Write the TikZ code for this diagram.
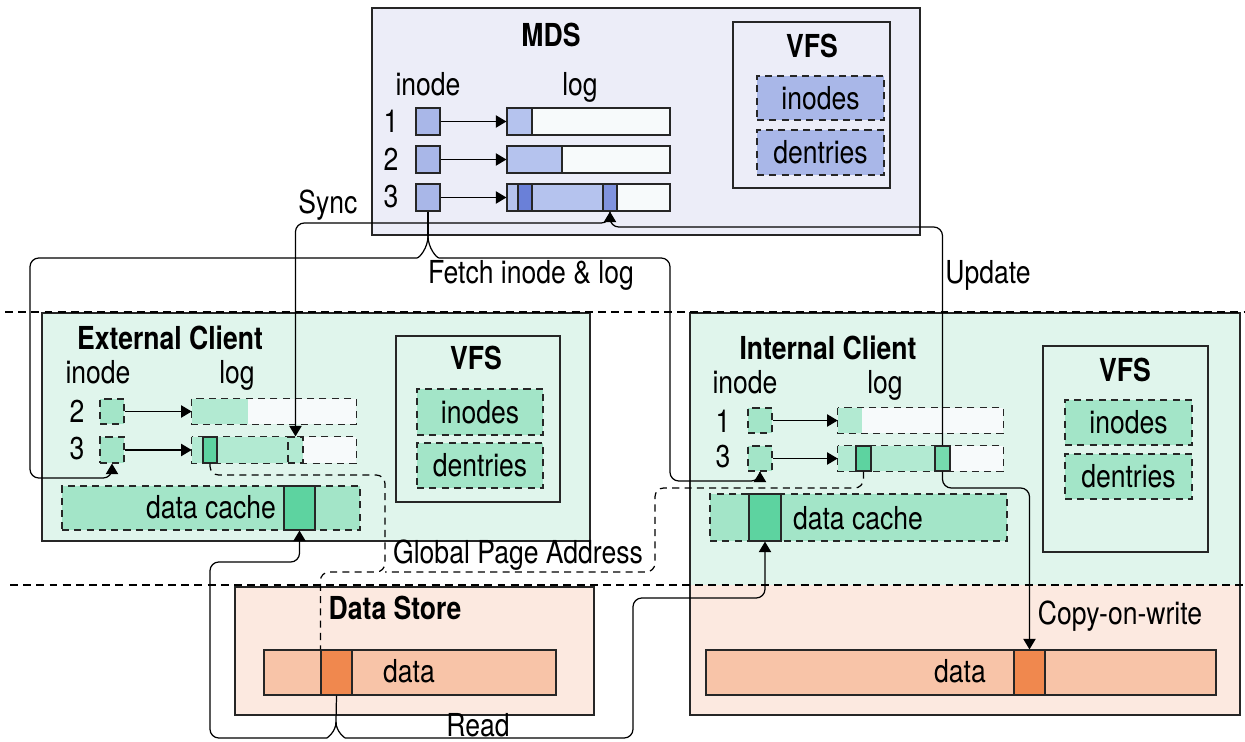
\documentclass[tikz,border=0pt]{standalone}
\usepackage{fontspec}
\setmainfont{TeX Gyre Heros}[FakeStretch=0.84]
\usetikzlibrary{arrows.meta,fit,calc}
\definecolor{MdsBg}{HTML}{ECEDF8}
\definecolor{MdsBox}{HTML}{A9B7E8}
\definecolor{MdsLog}{HTML}{B5C3EE}
\definecolor{MdsSeg}{HTML}{6A80D8}
\definecolor{LogRest}{HTML}{F7FAFB}
\definecolor{CliBg}{HTML}{E0F5EC}
\definecolor{CliBox}{HTML}{A3E5C8}
\definecolor{CliLog}{HTML}{B2EAD2}
\definecolor{CliSeg}{HTML}{5DD3A0}
\definecolor{StoreBg}{HTML}{FCE9E0}
\definecolor{StoreBar}{HTML}{F8C4A8}
\definecolor{StoreSeg}{HTML}{F0884E}
\tikzset{
    region/.style = {draw=black!85, rectangle, inner sep=0pt, line width=0.8pt},
    sbox/.style = {draw=black!85, rectangle, inner sep=0pt, line width=0.7pt},
    dbox/.style = {sbox, dash pattern=on 4pt off 3pt},
    txt/.style = {font=\fontsize{18}{20}\selectfont},
    ttl/.style = {font=\fontsize{18}{20}\selectfont\bfseries},
    link/.style = {draw, line width=0.7pt, rounded corners=5pt},
    arrow/.style = {link, -{Triangle[length=6pt,width=7pt]}},
    gpa/.style = {link, dash pattern=on 4pt off 3pt},
    divider/.style = {draw, line width=0.7pt, dash pattern=on 4.5pt off 3pt}
}

\begin{document}
\begin{tikzpicture}[x=0.02cm, y=-0.02cm]
    \useasboundingbox (0,0) rectangle (1245,742);
    % MDS
    \node [region, fill=MdsBg, fit={(372,8) (920,235)}] (mds) {};
    \node [ttl] (mdsttl) at (551,35) {MDS};
    \node [region, fill=MdsBg, fit={(733,22) (890,188)}] (mvfs) {};
    \node [ttl] (mvfsttl) at (812,46) {VFS};
    \node [dbox, fill=MdsBox, fit={(757,76) (884,120)}] (minodes) {};
    \node [txt] at (minodes) {inodes};
    \node [dbox, fill=MdsBox, fit={(757,130) (884,175)}] (mdentries) {};
    \node [txt] at (mdentries) {dentries};
    \node [txt] (minode) at (428,84) {inode};
    \node [txt] (mlog) at (580,87) {log};
    \node [txt] (mn1) at (391,121) {1};
    \node [txt] (mn2) at (391,159) {2};
    \node [txt] (mn3) at (391,197) {3};
    \node [sbox, fill=MdsBox, fit={(416,108) (440,135)}] (m1) {};
    \node [sbox, fill=MdsBox, fit={(416,146) (440,173)}] (m2) {};
    \node [sbox, fill=MdsBox, fit={(416,184) (440,211)}] (m3) {};
    \node [sbox, fill=LogRest, fit={(507,108) (670,135)}] (ml1) {};
    \node [sbox, fill=MdsLog, fit={(507,108) (532,135)}] (ms1) {};
    \node [sbox, fill=LogRest, fit={(507,146) (670,173)}] (ml2) {};
    \node [sbox, fill=MdsLog, fit={(507,146) (562,173)}] (ms2) {};
    \node [sbox, fill=LogRest, fit={(507,184) (670,211)}] (ml3) {};
    \node [sbox, fill=MdsLog, fit={(507,184) (617,211)}] (ms3) {};
    \node [sbox, fill=MdsSeg, fit={(518,184) (532,211)}] (ms3a) {};
    \node [sbox, fill=MdsSeg!85, fit={(603,184) (617,211)}] (ms3b) {};
    \draw [arrow] (m1) -- (ml1);
    \draw [arrow] (m2) -- (ml2);
    \draw [arrow] (m3) -- (ml3);

    % External Client
    \node [region, fill=CliBg, fit={(42,313) (590,541)}] (extc) {};
    \node [ttl] (extttl) at (170,338) {External Client};
    \node [region, fill=CliBg, fit={(396,336) (560,502)}] (evfs) {};
    \node [ttl] (evfsttl) at (476,358) {VFS};
    \node [dbox, fill=CliBox, fit={(417,389) (543,435)}] (einodes) {};
    \node [txt] at (einodes) {inodes};
    \node [dbox, fill=CliBox, fit={(417,443) (543,488)}] (edentries) {};
    \node [txt] at (edentries) {dentries};
    \node [txt] (einode) at (98,372) {inode};
    \node [txt] (elog) at (237,375) {log};
    \node [txt] (en2) at (77,411) {2};
    \node [txt] (en3) at (77,449) {3};
    \node [dbox, fill=CliBox, fit={(100,399) (124,424)}] (e2) {};
    \node [dbox, fill=CliBox, fit={(100,437) (124,463)}] (e3) {};
    \node [inner sep=0pt, fill=LogRest, fit={(192,399) (356,424)}] (el2) {};
    \fill [CliLog] (192,399) rectangle (248,424);
    \draw [dbox] (el2.north west) rectangle (el2.south east);
    \node [inner sep=0pt, fill=LogRest, fit={(192,437) (356,463)}] (el3) {};
    \fill [CliLog] (192,437) rectangle (288,463);
    \draw [dbox] (el3.north west) rectangle (el3.south east);
    \node [sbox, fill=CliSeg, fit={(203,437) (217,463)}] (es3) {};
    \node [dbox, fill=CliLog, fit={(288,437) (303,463)}] (esync) {};
    \draw [arrow] (e2) -- (el2);
    \draw [arrow] (e3) -- (el3);
    \node [dbox, fill=CliBox, fit={(62,486) (360,530)}] (ecache) {};
    \node [txt] (ecachetxt) at (211,507) {data cache};
    \node [sbox, fill=CliSeg, fit={(284,486) (315,530)}] (ecseg) {};

    % Internal Client
    \node [region, fill=CliBg, fit={(690,313) (1240,715)}] (intc) {};
    \node [inner sep=0pt, fill=StoreBg, fit={(690.8,585) (1239.2,714.2)}] (istorebg) {};
    \node [ttl] (intttl) at (828,348) {Internal Client};
    \node [region, fill=CliBg, fit={(1043,346) (1208,552)}] (ivfs) {};
    \node [ttl] (ivfsttl) at (1125,370) {VFS};
    \node [dbox, fill=CliBox, fit={(1065,400) (1192,445)}] (iinodes) {};
    \node [txt] at (iinodes) {inodes};
    \node [dbox, fill=CliBox, fit={(1065,454) (1192,499)}] (identries) {};
    \node [txt] at (identries) {dentries};
    \node [txt] (iinode) at (745,382) {inode};
    \node [txt] (ilog) at (885,385) {log};
    \node [txt] (in1) at (723,421) {1};
    \node [txt] (in3) at (723,457) {3};
    \node [dbox, fill=CliBox, fit={(748,408) (772,433)}] (i1) {};
    \node [dbox, fill=CliBox, fit={(748,446) (772,471)}] (i3) {};
    \node [inner sep=0pt, fill=LogRest, fit={(838,408) (1003,433)}] (il1) {};
    \fill [CliLog] (838,408) rectangle (862,433);
    \draw [dbox] (il1.north west) rectangle (il1.south east);
    \node [inner sep=0pt, fill=LogRest, fit={(838,446) (1003,471)}] (il3) {};
    \fill [CliLog] (838,446) rectangle (950,471);
    \draw [dbox] (il3.north west) rectangle (il3.south east);
    \node [sbox, fill=CliSeg, fit={(856,446) (871,471)}] (is3a) {};
    \node [sbox, fill=CliSeg!85, fit={(935,446) (950,471)}] (is3b) {};
    \draw [arrow] (i1) -- (il1);
    \draw [arrow] (i3) -- (il3);
    \node [dbox, fill=CliBox, fit={(710,494) (1007,541)}] (icache) {};
    \node [txt] (icachetxt) at (858,518) {data cache};
    \node [sbox, fill=CliSeg, fit={(749,494) (781,541)}] (icseg) {};
    \node [sbox, fill=StoreBar, fit={(706,650) (1216,695)}] (istore) {};
    \node [txt] (istoretxt) at (960,671) {data};
    \node [sbox, fill=StoreSeg, fit={(1014,650) (1045,695)}] (iseg) {};

    % Data Store
    \node [region, fill=StoreBg, fit={(235,587) (594,715)}] (dstore) {};
    \node [ttl] (dstorettl) at (395,608) {Data Store};
    \node [sbox, fill=StoreBar, fit={(264,650) (556,695)}] (dbar) {};
    \node [txt] (dbartxt) at (409,671) {data};
    \node [sbox, fill=StoreSeg, fit={(321,650) (352,695)}] (dseg) {};

    % tiers
    \draw [divider] (5,312) -- (1245,312);
    \draw [divider] (10,585) -- (1245,585);

    % connectors
    \coordinate (syncy) at (0,223);
    \coordinate (updy) at (0,227);
    \coordinate (gpay) at (0,572);
    \coordinate (fsplit) at (428,236);
    \coordinate (rsplit) at (336,722);
    \draw [arrow] (ms3b.south) |- (esync.north |- syncy) -- (esync.north);
    \draw [arrow] (is3b.north) |- (ms3b.south |- updy) -- (ms3b.south);
    \draw [link] (m3.south) -- (fsplit);
    \draw [arrow] (fsplit) to[out=-90,in=0] (408,258) -| (30,478) -| (e3.south);
    \draw [arrow] (fsplit) to[out=-90,in=180] (448,258) -| (670,481) -| (i3.south);
    \draw [gpa] (es3.south) |- (385,475) |- (dseg.north west |- gpay) -- (dseg.north west);
    \draw [gpa] (is3a.south) |- (655,488) |- (385,572);
    \draw [arrow] (is3b.south) |- (iseg.north |- 0,488) -- (iseg.north);
    \draw [link] (dseg.south) -- (rsplit);
    \draw [arrow] (rsplit) to[out=-90,in=0] (318,738) -| (210,562) -| (ecseg.south);
    \draw [arrow] (rsplit) to[out=-90,in=180] (354,738) -| (633,598) -| (icseg.south);

    % connector labels
    \node [txt] (synctxt) at (328,205) {Sync};
    \node [txt] (fetchtxt) at (531,275) {Fetch inode \& log};
    \node [txt] (updtxt) at (988,275) {Update};
    \node [txt] (gpatxt) at (518,555) {Global Page Address};
    \node [txt] (readtxt) at (478,725) {Read};
    \node [txt] (cowtxt) at (1120,616) {Copy-on-write};
\end{tikzpicture}
\end{document}
